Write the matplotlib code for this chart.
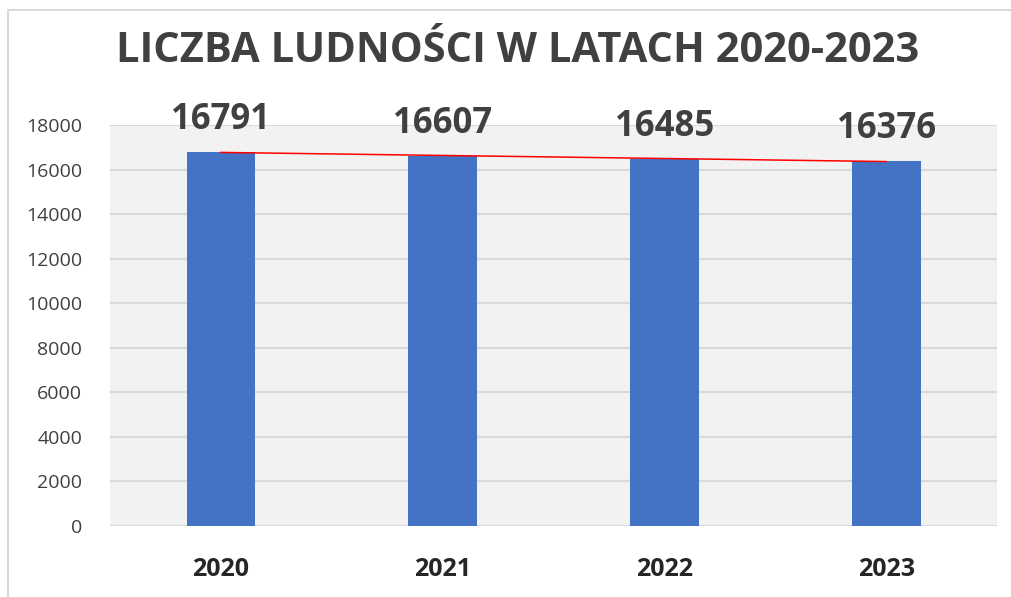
import matplotlib.pyplot as plt
import numpy as np
from matplotlib.patches import Rectangle

plt.rcParams['font.family'] = ['Open Sans', 'DejaVu Sans']

lata = ['2020', '2021', '2022', '2023']
ludnosc = [16791, 16607, 16485, 16376]
y_ticks = list(range(0, 18001, 2000))

fig = plt.figure(figsize=(10.11, 5.97), dpi=100)
ax = fig.add_axes([0.1088, 0.1189, 0.8774, 0.6717])
ax.set_facecolor('#F2F2F2')

x = np.arange(len(lata))
ax.bar(x, ludnosc, width=0.31, color='#4472C4', zorder=3)

# liniowa linia trendu
a, b = np.polyfit(x, ludnosc, 1)
ax.plot(x[[0, -1]], a * x[[0, -1]] + b, color='red', lw=1.1, zorder=4)

for xi, v in zip(x, ludnosc):
    ax.annotate(str(v), (xi, v), xytext=(0, 10), textcoords='offset points',
                ha='center', va='bottom', fontsize=25, fontweight='bold', color='#404040')

ax.set_xlim(-0.5, len(lata) - 0.5)
ax.set_ylim(0, 18000)
ax.set_yticks(y_ticks)
ax.set_yticklabels([str(t) for t in y_ticks], fontsize=14, color='#404040')
ax.set_xticks(x)
ax.set_xticklabels(lata, fontsize=18, fontweight='bold', color='#262626')
ax.tick_params(axis='both', length=0)
ax.tick_params(axis='x', pad=22)
ax.tick_params(axis='y', pad=20)
ax.grid(axis='y', color='#D9D9D9', lw=1.5, zorder=0)
for s in ax.spines.values():
    s.set_visible(False)

fig.text(0.512, 1 - 51 / 597, 'LICZBA LUDNOŚCI W LATACH 2020-2023', ha='center', va='center',
         fontsize=30, fontweight='bold', color='#404040')

# ramka wykresu
fig.patches.append(Rectangle((8 / 1011, -0.1), 1.2, 1.1 - 10 / 597, transform=fig.transFigure,
                             fill=False, edgecolor='#D9D9D9', lw=1.5))

fig.savefig('out.png', dpi=100)
